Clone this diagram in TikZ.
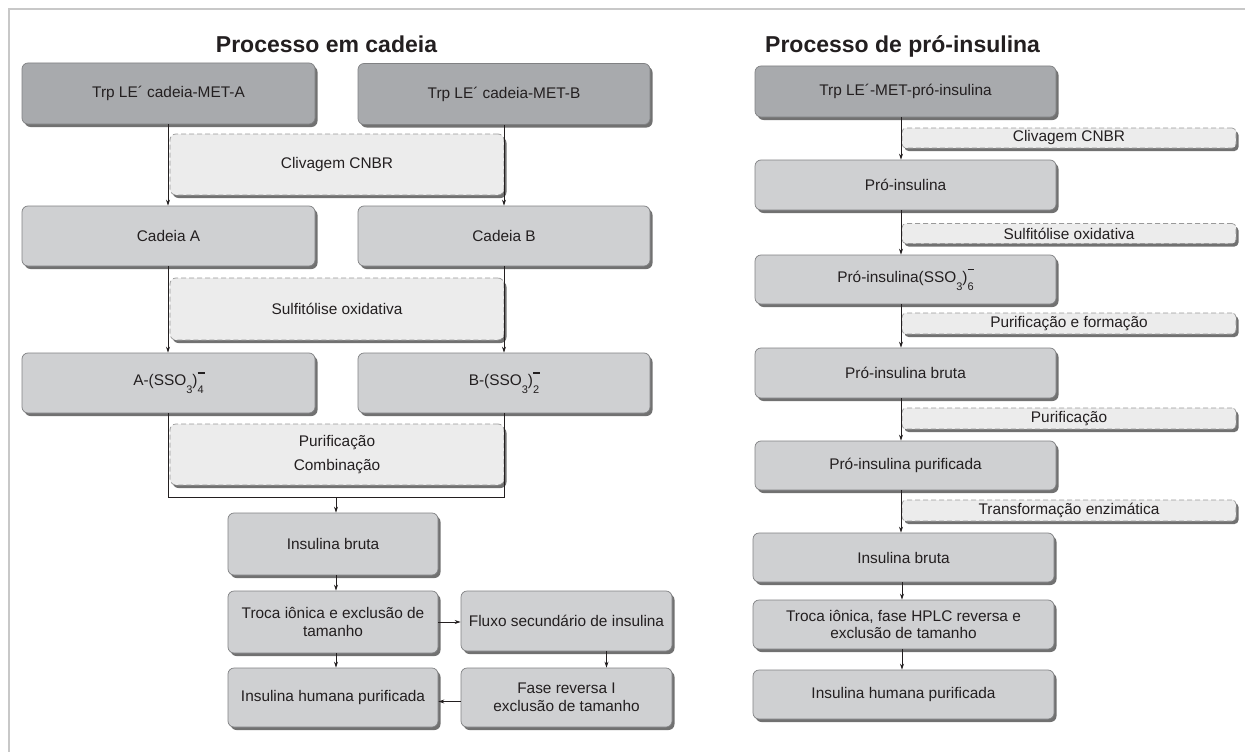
\documentclass[tikz,border=0pt]{standalone}
\usepackage{fontspec}
\setmainfont{Liberation Sans}
\usetikzlibrary{arrows.meta,shadows}

\definecolor{boxdark}{RGB}{168,170,173}
\definecolor{boxmid}{RGB}{207,208,210}
\definecolor{stepfill}{RGB}{236,236,236}
\definecolor{edge}{RGB}{128,129,131}
\definecolor{ink}{RGB}{35,31,32}
\definecolor{frameline}{RGB}{200,200,200}

% subscript and charge bar for the sulfonate groups
\newcommand\sbt[1]{\raisebox{-0.5em}{\fontsize{11}{11}\selectfont #1}}
\newcommand\chg[1]{\rlap{\raisebox{0.8em}{\rule{0.45em}{0.08em}}}\sbt{#1}}

\tikzset{
  base/.style={rounded corners=6pt, draw=edge, line width=0.7pt, text=ink,
    align=center, font=\fontsize{15.4}{17.5}\selectfont, inner sep=2pt,
    drop shadow={shadow xshift=2.5pt, shadow yshift=-3pt, fill=black!65, opacity=0.85}},
  darkbox/.style={base, fill=boxdark},
  midbox/.style={base, fill=boxmid},
  stepbox/.style={base, fill=stepfill, draw=black!40, dash pattern=on 5pt off 3pt},
  arr/.style={draw=ink, line width=0.8pt, -{Stealth[length=6pt,width=4pt]}},
  ln/.style={draw=ink, line width=0.8pt},
  title/.style={font=\fontsize{23}{23}\selectfont\bfseries, text=ink, inner sep=0pt},
}

\begin{document}
\begin{tikzpicture}[x=1pt, y=-1pt]
\useasboundingbox (0,0) rectangle (1245,752);
\fill[white] (0,0) rectangle (1245,752);
% frame lines
\draw[frameline, line width=1.5pt] (9,752) -- (9,9) -- (1245,9);

% ---------- chain process ----------
\node[title, anchor=base] (tL) at (326.5,53) {Processo em cadeia};

\node[darkbox, minimum width=293pt, minimum height=61pt] (trpA) at (168.5,93.5) {Trp LE´ cadeia-MET-A};
\node[darkbox, minimum width=292pt, minimum height=61pt] (trpB) at (504,94) {Trp LE´ cadeia-MET-B};
\node[stepbox, minimum width=334pt, minimum height=61pt] (clivL) at (337,164.5) {Clivagem CNBR};
\node[midbox, minimum width=293pt, minimum height=60pt] (cadA) at (168.5,236) {Cadeia A};
\node[midbox, minimum width=292pt, minimum height=60pt] (cadB) at (504,236) {Cadeia B};
\node[stepbox, minimum width=334pt, minimum height=62pt] (sulfL) at (337,309) {Sulfitólise oxidativa};
\node[midbox, minimum width=293pt, minimum height=60pt] (ssoA) at (168.5,383) {A-(SSO\sbt{3})\chg{4}};
\node[midbox, minimum width=292pt, minimum height=60pt] (ssoB) at (504,383) {B-(SSO\sbt{3})\chg{2}};
\node[stepbox, minimum width=334pt, minimum height=61pt, font=\fontsize{15.4}{23.5}\selectfont] (purL) at (337,454.5) {Purificação\\Combinação};
\coordinate (jA) at (168,497);
\coordinate (jB) at (504,497);
\coordinate (jM) at (336,497);
\node[midbox, minimum width=210pt, minimum height=62pt] (brutaL) at (333,544) {Insulina bruta};
\node[midbox, minimum width=210pt, minimum height=62pt] (trocaL) at (333,622) {Troca iônica e exclusão de\\tamanho};
\node[midbox, minimum width=211pt, minimum height=60pt] (fluxo) at (566.5,621) {Fluxo secundário de insulina};
\node[midbox, minimum width=210pt, minimum height=59pt] (humL) at (333,697.5) {Insulina humana purificada};
\node[midbox, minimum width=211pt, minimum height=59pt] (fase) at (566.5,697.5) {Fase reversa I\\exclusão de tamanho};

\draw[arr] (trpA.south -| jA) -- (cadA.north -| jA);
\draw[arr] (trpB.south -| jB) -- (cadB.north -| jB);
\draw[arr] (cadA.south -| jA) -- (ssoA.north -| jA);
\draw[arr] (cadB.south -| jB) -- (ssoB.north -| jB);
\draw[ln] (ssoA.south -| jA) -- (jA) -- (jB) -- (ssoB.south -| jB);
\draw[arr] (jM) -- (brutaL.north -| jM);
\draw[arr] (brutaL.south -| jM) -- (trocaL.north -| jM);
\draw[arr] (trocaL.south -| jM) -- (humL.north -| jM);
\draw[arr] (trocaL.east) -- (trocaL.east -| fluxo.west);
\draw[arr] ([xshift=40pt]fluxo.south) -- ([xshift=40pt]fase.north);
\draw[arr] ([yshift=-4pt]fase.west) -- ([yshift=-4pt]fase.west -| humL.east);

% ---------- proinsulin process ----------
\node[title, anchor=base west] (tR) at (765,53) {Processo de pró-insulina};

\node[darkbox, minimum width=301pt, minimum height=51pt] (trpR) at (905.5,91.5) {Trp LE´-MET-pró-insulina};
\node[stepbox, minimum width=334pt, minimum height=20pt, rounded corners=4pt] (s1) at (1069,138) {Clivagem CNBR};
\node[midbox, minimum width=301pt, minimum height=50pt] (r1) at (905.5,185) {Pró-insulina};
\node[stepbox, minimum width=334pt, minimum height=20pt, rounded corners=4pt] (s2) at (1069,233.5) {Sulfitólise oxidativa};
\node[midbox, minimum width=301pt, minimum height=49pt] (r2) at (905.5,279.5) {Pró-insulina(SSO\sbt{3})\chg{6}};
\node[stepbox, minimum width=334pt, minimum height=21pt, rounded corners=4pt] (s3) at (1069,323.5) {Purificação e formação};
\node[midbox, minimum width=301pt, minimum height=50pt] (r3) at (905.5,373) {Pró-insulina bruta};
\node[stepbox, minimum width=334pt, minimum height=21pt, rounded corners=4pt] (s4) at (1069,418.5) {Purificação};
\node[midbox, minimum width=301pt, minimum height=49pt] (r4) at (905.5,465.5) {Pró-insulina purificada};
\node[stepbox, minimum width=334pt, minimum height=21pt, rounded corners=4pt] (s5) at (1069,510.5) {Transformação enzimática};
\node[midbox, minimum width=301pt, minimum height=49pt] (r5) at (903.5,557.5) {Insulina bruta};
\node[midbox, minimum width=301pt, minimum height=49pt, font=\fontsize{15.4}{16.5}\selectfont] (r6) at (903.5,624.5) {Troca iônica, fase HPLC reversa e\\exclusão de tamanho};
\node[midbox, minimum width=301pt, minimum height=49pt] (r7) at (903.5,694.5) {Insulina humana purificada};

\coordinate (xR) at (901,0);
\coordinate (xR2) at (902,0);
\draw[arr] (trpR.south -| xR) -- (r1.north -| xR);
\draw[arr] (r1.south -| xR) -- (r2.north -| xR);
\draw[arr] (r2.south -| xR) -- (r3.north -| xR);
\draw[arr] (r3.south -| xR) -- (r4.north -| xR);
\draw[arr] (r4.south -| xR) -- (r5.north -| xR);
\draw[arr] (r5.south -| xR2) -- (r6.north -| xR2);
\draw[arr] (r6.south -| xR2) -- (r7.north -| xR2);
\end{tikzpicture}
\end{document}
